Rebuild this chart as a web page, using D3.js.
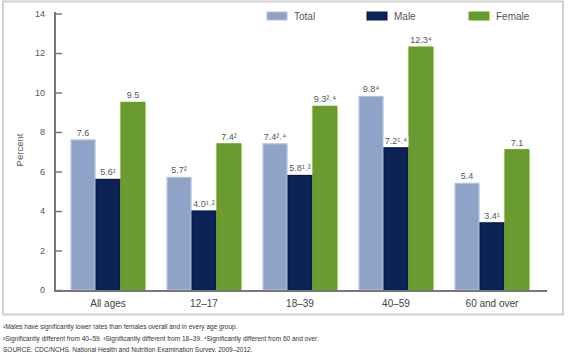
<!DOCTYPE html>
<html><head><meta charset="utf-8">
<script src="https://cdn.jsdelivr.net/npm/d3@7"></script>
<style>
body{margin:0;background:#fff;font-family:"Liberation Sans",Arial,sans-serif;}
svg text{fill:#555;}
</style></head>
<body><div id="chart"></div>
<script>
/* Depression by age and sex — grouped bars with footnoted value labels */
var groups=["All ages","12–17","18–39","40–59","60 and over"];
var series=["Total","Male","Female"];
var totalVals=[7.6,5.7,7.4,9.8,5.4];
var maleVals=[5.6,4.0,5.8,7.2,3.4];
var femaleVals=[9.5,7.4,9.3,12.3,7.1];
var totalLabels=["7.6","5.7²","7.4²˒⁴","9.8⁴","5.4"];
var maleLabels=["5.6¹","4.0¹˒²","5.8¹˒²","7.2¹˒⁴","3.4¹"];
var femaleLabels=["9.5","7.4²","9.3²˒⁴","12.3⁴","7.1"];
var yTicks=[0,2,4,6,8,10,12,14];
var notes=["¹Males have significantly lower rates than females overall and in every age group.",
  "²Significantly different from 40–59. ³Significantly different from 18–39. ⁴Significantly different from 60 and over.",
  "SOURCE: CDC/NCHS, National Health and Nutrition Examination Survey, 2009–2012."];

var colors={Total:"#8fa2c7",Male:"#0d2358",Female:"#6b9a30"};
var strokes={Total:"#b3c2dc",Male:"#071847",Female:"#5fa514"};

var vals={Total:totalVals,Male:maleVals,Female:femaleVals};
var labs={Total:totalLabels,Male:maleLabels,Female:femaleLabels};
var rows=[];
groups.forEach(function(g,i){series.forEach(function(s){rows.push({g:g,s:s,v:vals[s][i],l:labs[s][i]});});});

var W=568,H=352;
var svg=d3.select("#chart").append("svg").attr("width",W).attr("height",H);

/* frame */
svg.append("rect").attr("x",3).attr("y",1.5).attr("width",560).attr("height",313)
  .attr("fill","none").attr("stroke","#cfcfcf").attr("stroke-width",2);

var x=d3.scaleBand().domain(groups).range([60,540]).paddingInner(0.22).paddingOuter(0.11);
var xs=d3.scaleBand().domain(series).range([0,x.bandwidth()]);
var y=d3.scaleLinear().domain([0,14]).range([290,13.5]);

/* bars */
svg.selectAll("rect.bar").data(rows).enter().append("rect").attr("class","bar")
  .attr("x",function(d){return x(d.g)+xs(d.s)+0.5;})
  .attr("width",xs.bandwidth()-1)
  .attr("y",function(d){return y(d.v);})
  .attr("height",function(d){return y(0)-y(d.v);})
  .attr("fill",function(d){return colors[d.s];})
  .attr("stroke",function(d){return strokes[d.s];}).attr("stroke-width",1.2);

/* value labels with white backing */
var lab=svg.selectAll("g.vl").data(rows).enter().append("g").attr("class","vl")
  .attr("transform",function(d){return "translate("+(x(d.g)+xs(d.s)+xs.bandwidth()/2)+","+(y(d.v)-4)+")";});
lab.append("text").attr("text-anchor","middle").style("font-size","9px").text(function(d){return d.l;});
lab.each(function(){
  var g=d3.select(this),b=g.select("text").node().getBBox();
  g.insert("rect","text").attr("x",b.x-1).attr("y",b.y).attr("width",b.width+2).attr("height",b.height).attr("fill","#fff");
});

/* axes */
var ya=svg.append("g").attr("transform","translate(55,0)")
  .call(d3.axisRight(y).tickValues(yTicks).tickSize(7).tickFormat(d3.format("d")));
ya.select(".domain").remove();
ya.selectAll("line").attr("stroke","#777").attr("stroke-width",1.5);
ya.selectAll("text").attr("x",-10).attr("text-anchor","end").style("font-size","9px").style("fill","#555");
svg.append("line").attr("x1",55).attr("x2",55).attr("y1",12).attr("y2",291).attr("stroke","#777").attr("stroke-width",2);
svg.append("line").attr("x1",54).attr("x2",547).attr("y1",291).attr("y2",291).attr("stroke","#777").attr("stroke-width",2);

var xa=svg.append("g").attr("transform","translate(0,291)").call(d3.axisBottom(x).tickSize(0).tickPadding(9));
xa.select(".domain").remove();
xa.selectAll("text").style("font-size","10px").style("fill","#444");

svg.append("text").attr("transform","rotate(-90)").attr("x",-150).attr("y",23)
  .attr("text-anchor","middle").style("font-size","9.5px").text("Percent");

/* legend */
var lx=[267,367,469];
series.forEach(function(s,i){
  svg.append("rect").attr("x",lx[i]).attr("y",12).attr("width",20).attr("height",8)
    .attr("fill",colors[s]).attr("stroke",strokes[s]).attr("stroke-width",1);
  svg.append("text").attr("x",lx[i]+27).attr("y",20).style("font-size","10px").text(s);
});

/* footnotes */
notes.forEach(function(t,i){
  svg.append("text").attr("x",3).attr("y",329+i*11.5).style("font-size","6.5px").style("fill","#333").text(t);
});
</script>
</body></html>
